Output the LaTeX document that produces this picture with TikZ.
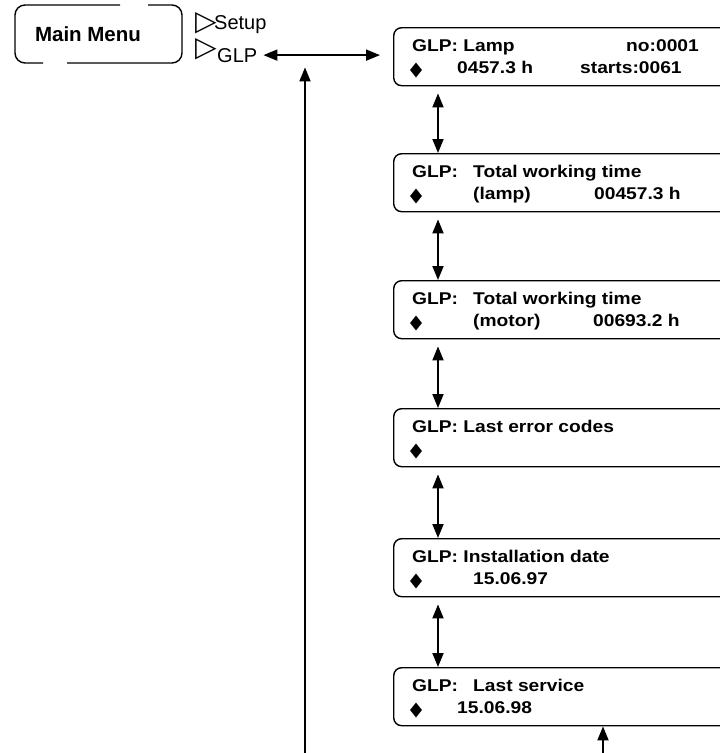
\documentclass[tikz,border=0pt]{standalone}
\usepackage{fontspec}
\setmainfont{Liberation Sans}
\newfontfamily\lcdfont{Liberation Sans}[FakeStretch=1.13]
\newfontfamily\symfont{DejaVu Sans}
\usetikzlibrary{arrows.meta,shapes.geometric}

\tikzset{
	lcdbox/.style={draw, line width=1.4pt, rounded corners=8pt, minimum width=400pt, minimum height=58pt, inner sep=0pt, anchor=north west},
	lcd/.style={anchor=base west, inner sep=0pt, font=\lcdfont\bfseries\fontsize{17}{20}\selectfont},
	menu/.style={anchor=base west, inner sep=0pt, font=\fontsize{20}{24}\selectfont},
	menumark/.style={anchor=base west, inner sep=0pt, font=\symfont\fontsize{28}{30}\selectfont},
	diam/.style={diamond, fill, inner sep=0pt, minimum width=12pt, minimum height=15pt},
	link/.style={{Triangle[length=14pt,width=11pt]}-{Triangle[length=14pt,width=11pt]}, line width=1.8pt},
	uplink/.style={-{Triangle[length=14pt,width=11pt]}, line width=1.8pt}
}

\begin{document}
\begin{tikzpicture}[x=1pt, y=-1pt]
			\clip (0,0) rectangle (720,753);
			
			% main menu
			\draw[line width=1.4pt, rounded corners=10pt] (120,5) -- (15,5) -- (15,63) -- (43,63);
			\draw[line width=1.4pt, rounded corners=10pt] (67,63) -- (182,63) -- (182,5) -- (148,5);
			\node[anchor=base, inner sep=0pt, font=\bfseries\fontsize{20.5}{24}\selectfont] (mm) at (88,41) {Main Menu};
			\node[menumark] (setupmark) at (195,30) {▷};
			\node[menu] (setup) at (214,29) {Setup};
			\node[menumark] (glpmark) at (195,56) {▷};
			\node[menu] (glp) at (217,62) {GLP};
			
			% display screens
			\foreach \n/\t in {1/27, 2/153, 3/280, 4/408, 5/538, 6/667} {
				\node[lcdbox] (b\n) at (393,\t) {};
				\node[diam] (d\n) at ([xshift=23pt,yshift=-43pt]b\n.north west) {};
			}
			
			\node[lcd] (t1a) at (412,51) {GLP: Lamp};
			\node[lcd] (t1b) at (626,51) {no:0001};
			\node[lcd] (t1c) at (457,73) {0457.3 h};
			\node[lcd] (t1d) at (580,73) {starts:0061};
			
			\node[lcd] (t2a) at (412,177) {GLP:};
			\node[lcd] (t2b) at (473,177) {Total working time};
			\node[lcd] (t2c) at (473,199) {(lamp)};
			\node[lcd] (t2d) at (594,199) {00457.3 h};
			
			\node[lcd] (t3a) at (412,304) {GLP:};
			\node[lcd] (t3b) at (473,304) {Total working time};
			\node[lcd] (t3c) at (473,326) {(motor)};
			\node[lcd] (t3d) at (593,326) {00693.2 h};
			
			\node[lcd] (t4a) at (412,432) {GLP: Last error codes};
			
			\node[lcd] (t5a) at (412,562) {GLP: Installation date};
			\node[lcd] (t5c) at (473,584) {15.06.97};
			
			\node[lcd] (t6a) at (412,691) {GLP:};
			\node[lcd] (t6b) at (473,691) {Last service};
			\node[lcd] (t6c) at (457,713) {15.06.98};
			
			% arrows
			\foreach \a/\b in {1/2, 2/3, 3/4, 4/5, 5/6}
				\draw[link] ([xshift=45pt,yshift=-7pt]b\a.south west) -- ([xshift=45pt]b\b.north west);
			\draw[link] ([xshift=6pt]glp.east) -- ([xshift=-13pt]glp.east -| b1.west);
			
			\coordinate (ret) at (305,760);
			\coordinate (back) at (603,760);
			\draw[uplink] (ret) -- ([yshift=-5pt]ret |- glp.south);
			\draw[uplink] (back) -- (back |- b6.south);
		\end{tikzpicture}
\end{document}
